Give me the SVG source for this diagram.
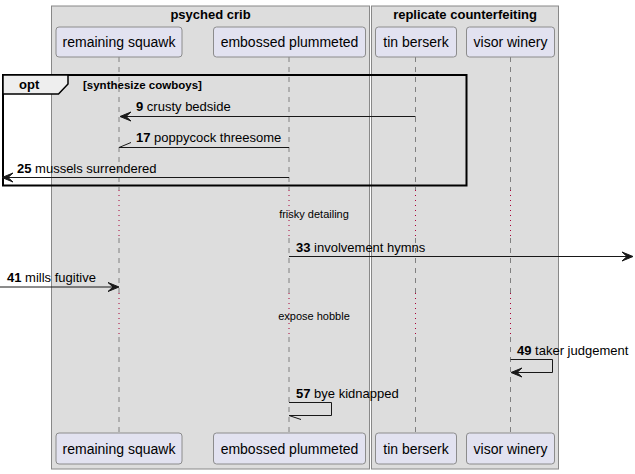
<svg xmlns="http://www.w3.org/2000/svg" width="635" height="474" viewBox="0 0 635 474">
<defs>
<style>
.grp{fill:#DDDDDD;stroke:#888888;stroke-width:1}
.gt{font-family:"Liberation Sans",Arial,sans-serif;font-size:13px;font-weight:bold;fill:#000;text-anchor:middle}
.pbox{fill:#E2E2F0;stroke:#8C8C8C;stroke-width:1}
.pt{font-family:"Liberation Sans",Arial,sans-serif;font-size:14px;fill:#000;text-anchor:middle}
.life{stroke:#808080;stroke-width:1;stroke-dasharray:5,5;fill:none}
.dly{stroke:#A80036;stroke-width:1;stroke-dasharray:1,4;fill:none}
.msg{stroke:#181818;stroke-width:1;fill:none}
.head{fill:#181818;stroke:#181818;stroke-width:1}
.ml{font-family:"Liberation Sans",Arial,sans-serif;font-size:13px;fill:#000}
.ml .n{font-weight:bold}
.dt{font-family:"Liberation Sans",Arial,sans-serif;font-size:11px;fill:#000;text-anchor:middle}
</style>
</defs>
<rect width="635" height="474" fill="#FFFFFF"/>
<g id="box-psyched-crib">
<rect class="grp" x="51.5" y="6" width="318" height="463"/>
<text class="gt" x="210.5" y="19">psyched crib</text>
</g>
<g id="box-replicate-counterfeiting">
<rect class="grp" x="371.5" y="6" width="187" height="463"/>
<text class="gt" x="465" y="19">replicate counterfeiting</text>
</g>
<g id="lifelines">
<path class="life" d="M119,57V190M119,238V293M119,337V432"/>
<path class="dly" d="M119,190V238M119,293V337"/>
<path class="life" d="M289,57V190M289,238V293M289,337V432"/>
<path class="dly" d="M289,190V238M289,293V337"/>
<path class="life" d="M415.5,57V190M415.5,238V293M415.5,337V432"/>
<path class="dly" d="M415.5,190V238M415.5,293V337"/>
<path class="life" d="M510.5,57V190M510.5,238V293M510.5,337V432"/>
<path class="dly" d="M510.5,190V238M510.5,293V337"/>
</g>
<g id="remaining-squawk">
<rect class="pbox" x="56" y="27" width="126" height="30" rx="3"/>
<text class="pt" x="119" y="47">remaining squawk</text>
<rect class="pbox" x="56" y="433" width="126" height="31" rx="3"/>
<text class="pt" x="119" y="453.5">remaining squawk</text>
</g>
<g id="embossed-plummeted">
<rect class="pbox" x="213.5" y="27" width="152" height="30" rx="3"/>
<text class="pt" x="289.5" y="47">embossed plummeted</text>
<rect class="pbox" x="213.5" y="433" width="152" height="31" rx="3"/>
<text class="pt" x="289.5" y="453.5">embossed plummeted</text>
</g>
<g id="tin-berserk">
<rect class="pbox" x="375.5" y="27" width="81" height="30" rx="3"/>
<text class="pt" x="416" y="47">tin berserk</text>
<rect class="pbox" x="375.5" y="433" width="81" height="31" rx="3"/>
<text class="pt" x="416" y="453.5">tin berserk</text>
</g>
<g id="visor-winery">
<rect class="pbox" x="466.5" y="27" width="88" height="30" rx="3"/>
<text class="pt" x="510.5" y="47">visor winery</text>
<rect class="pbox" x="466.5" y="433" width="88" height="31" rx="3"/>
<text class="pt" x="510.5" y="453.5">visor winery</text>
</g>
<g id="opt-frame">
<rect x="3" y="75" width="463.5" height="110.5" fill="none" stroke="#000" stroke-width="2"/>
<path d="M3,75H68V84L58.5,94H3Z" fill="#EEEEEE" stroke="#000" stroke-width="1.5"/>
<text x="19" y="89" font-family="Liberation Sans,Arial,sans-serif" font-size="13" font-weight="bold">opt</text>
<text x="83" y="89" font-family="Liberation Sans,Arial,sans-serif" font-size="11.5" font-weight="bold">[synthesize cowboys]</text>
</g>
<g id="delays">
<text class="dt" x="314" y="218">frisky detailing</text>
<text class="dt" x="314" y="320">expose hobble</text>
</g>
<g id="connectors">
<g id="msg9">
<path class="msg" d="M415.5,116.5H121"/>
<polygon class="head" points="120,116.5 131,112 126,116.5 131,121"/>
<text class="ml" x="136" y="111"><tspan class="n">9</tspan> crusty bedside</text>
</g>
<g id="msg17">
<path class="msg" d="M289,147.5H119M119,147.5L131,142.5"/>
<text class="ml" x="136" y="142"><tspan class="n">17</tspan> poppycock threesome</text>
</g>
<g id="msg25">
<path class="msg" d="M289,177.5H4"/>
<polygon class="head" points="2,177.5 13,173 8,177.5 13,182"/>
<text class="ml" x="17" y="172.5"><tspan class="n">25</tspan> mussels surrendered</text>
</g>
<g id="msg33">
<path class="msg" d="M289,256.5H631"/>
<polygon class="head" points="633,256.5 622,252 627,256.5 622,261"/>
<text class="ml" x="296" y="251.5"><tspan class="n">33</tspan> involvement hymns</text>
</g>
<g id="msg41">
<path class="msg" d="M0,287H117"/>
<polygon class="head" points="119,287 108,282.5 113,287 108,291.5"/>
<text class="ml" x="7" y="282"><tspan class="n">41</tspan> mills fugitive</text>
</g>
<g id="msg49">
<path class="msg" d="M510.5,359.5H552.5V372.5H512"/>
<polygon class="head" points="511,372.5 522,368 517,372.5 522,377"/>
<text class="ml" x="517" y="355"><tspan class="n">49</tspan> taker judgement</text>
</g>
<g id="msg57">
<path class="msg" d="M289,402.5H331.5V415.5H289M289,415.5L301,419.5"/>
<text class="ml" x="296" y="398"><tspan class="n">57</tspan> bye kidnapped</text>
</g>
</g>
</svg>
